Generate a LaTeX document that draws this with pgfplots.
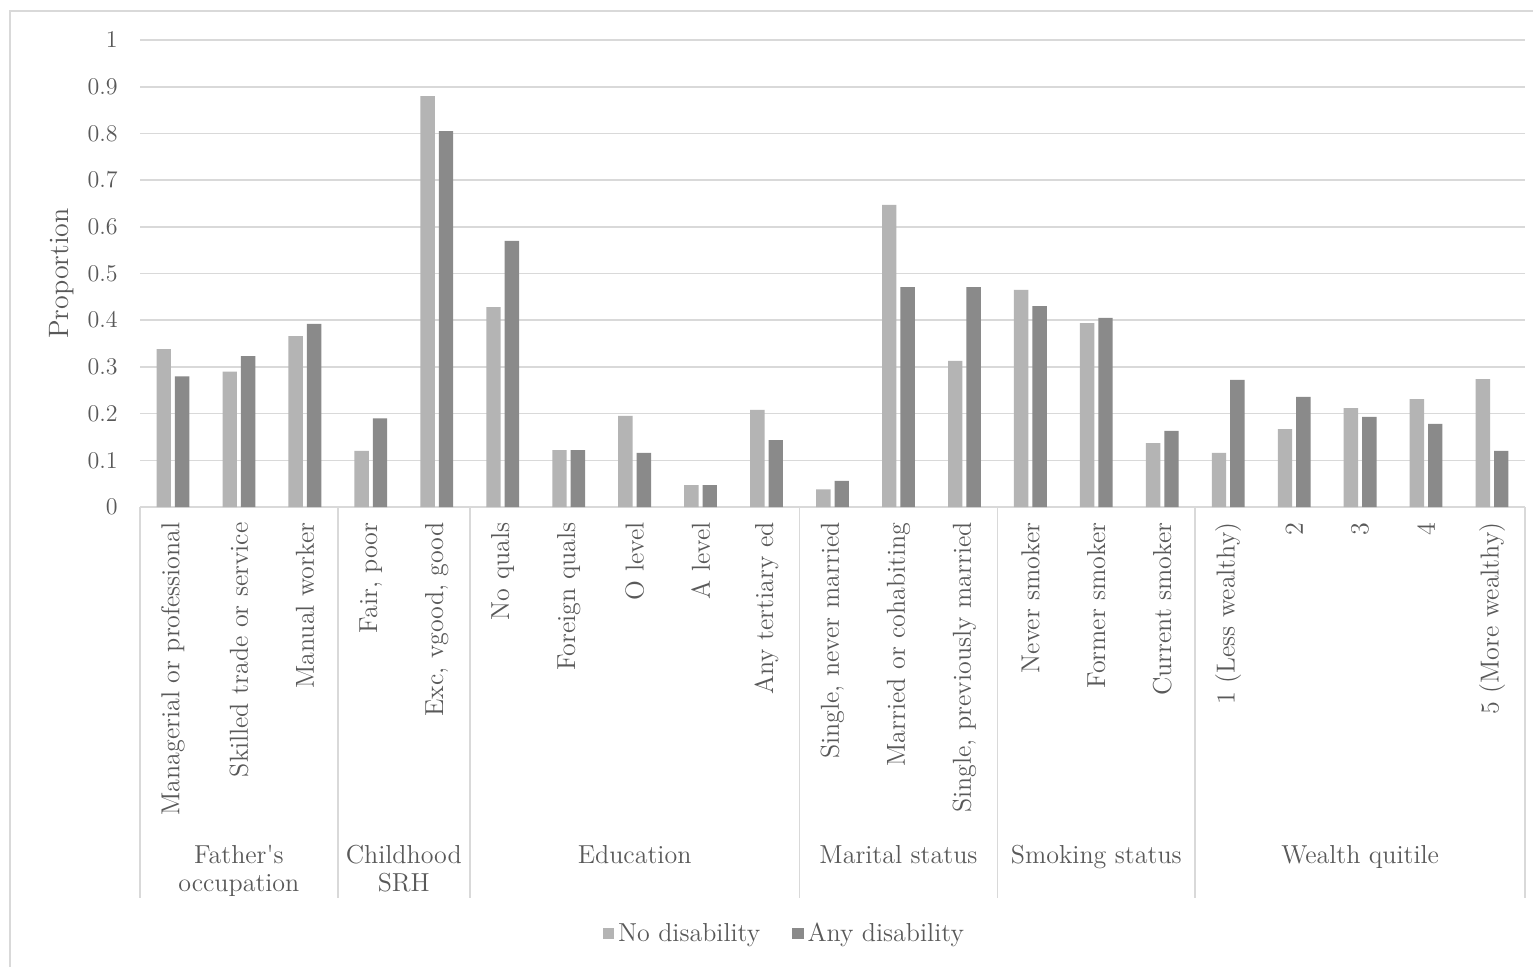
\documentclass[border=0pt]{standalone}
\usepackage{pgfplots}
\pgfplotsset{compat=1.18}
\definecolor{lightbar}{HTML}{B4B4B4}
\definecolor{darkbar}{HTML}{8A8A8A}
\definecolor{txt}{HTML}{595959}
\definecolor{gridc}{HTML}{D9D9D9}
\newcommand{\f}{\fontsize{13}{14}\selectfont}
\begin{document}
\begin{tikzpicture}
\path[use as bounding box, fill=white] (0,0) rectangle (766.5pt,-483pt);
\draw[gridc, line width=1pt] (5pt,-490pt) -- (5pt,-5.5pt) -- (780pt,-5.5pt);
\begin{axis}[
  at={(70pt,-253.5pt)}, anchor=south west,
  scale only axis, width=692.5pt, height=233.5pt,
  xmin=-0.5, xmax=20.5, ymin=0, ymax=1,
  clip=false,
  ybar, bar width=7.2pt,
  axis line style={draw=none},
  major tick length=0pt,
  ymajorgrids, major grid style={gridc, line width=0.8pt},
  ytick={0,0.1,0.2,0.3,0.4,0.5,0.6,0.7,0.8,0.9,1},
  yticklabel style={font=\f, text=txt, inner sep=0pt},
  yticklabel shift=11pt,
  xtick={0,...,20},
  xticklabels={Managerial or professional, Skilled trade or service, Manual worker,
    {Fair, poor}, {Exc, vgood, good}, No quals, Foreign quals, O level, A level,
    Any tertiary ed, {Single, never married}, Married or cohabiting,
    {Single, previously married}, Never smoker, Former smoker, Current smoker,
    1 (Less wealthy), 2, 3, 4, 5 (More wealthy)},
  xticklabel style={rotate=90, anchor=east, font=\f, text=txt, inner sep=0pt},
  xticklabel shift=7.5pt,
  ylabel={Proportion},
  every axis y label/.style={at={(axis description cs:-0.0563,0.5)}, rotate=90, anchor=center, font=\fontsize{14}{16}\selectfont, text=txt},
  legend style={at={(0.466,-0.914)}, anchor=center, draw=none, fill=none,
    legend columns=2, font=\f, text=txt,
    /tikz/every even column/.append style={column sep=14pt}},
  legend image code/.code={\fill[#1] (0pt,-2.8pt) rectangle (5.6pt,2.8pt);},
]
\addplot+[bar shift=-4.6pt, fill=lightbar, draw=none] coordinates {
(0,0.338) (1,0.290) (2,0.366) (3,0.120) (4,0.880) (5,0.428) (6,0.122) (7,0.195)
(8,0.047) (9,0.208) (10,0.038) (11,0.647) (12,0.313) (13,0.465) (14,0.394)
(15,0.137) (16,0.116) (17,0.167) (18,0.212) (19,0.231) (20,0.274)};
\addplot+[bar shift=4.6pt, fill=darkbar, draw=none] coordinates {
(0,0.280) (1,0.323) (2,0.392) (3,0.190) (4,0.805) (5,0.570) (6,0.122) (7,0.116)
(8,0.047) (9,0.143) (10,0.056) (11,0.471) (12,0.471) (13,0.430) (14,0.405)
(15,0.163) (16,0.272) (17,0.236) (18,0.193) (19,0.178) (20,0.120)};
\legend{No disability, Any disability}
\draw[gridc, line width=0.8pt] (axis cs:-0.5,0) -- (axis cs:-0.5,-0.837);
\draw[gridc, line width=0.8pt] (axis cs:2.5,0) -- (axis cs:2.5,-0.837);
\draw[gridc, line width=0.8pt] (axis cs:4.5,0) -- (axis cs:4.5,-0.837);
\draw[gridc, line width=0.8pt] (axis cs:9.5,0) -- (axis cs:9.5,-0.837);
\draw[gridc, line width=0.8pt] (axis cs:12.5,0) -- (axis cs:12.5,-0.837);
\draw[gridc, line width=0.8pt] (axis cs:15.5,0) -- (axis cs:15.5,-0.837);
\draw[gridc, line width=0.8pt] (axis cs:20.5,0) -- (axis cs:20.5,-0.837);
\node[anchor=north, align=center, font=\f, text=txt] at (axis cs:1,-0.71) {Father\textquotesingle s\\occupation};
\node[anchor=north, align=center, font=\f, text=txt] at (axis cs:3.5,-0.71) {Childhood\\SRH};
\node[anchor=north, align=center, font=\f, text=txt] at (axis cs:7,-0.71) {Education};
\node[anchor=north, align=center, font=\f, text=txt] at (axis cs:11,-0.71) {Marital status};
\node[anchor=north, align=center, font=\f, text=txt] at (axis cs:14,-0.71) {Smoking status};
\node[anchor=north, align=center, font=\f, text=txt] at (axis cs:18,-0.71) {Wealth quitile};
\end{axis}
\end{tikzpicture}
\end{document}
